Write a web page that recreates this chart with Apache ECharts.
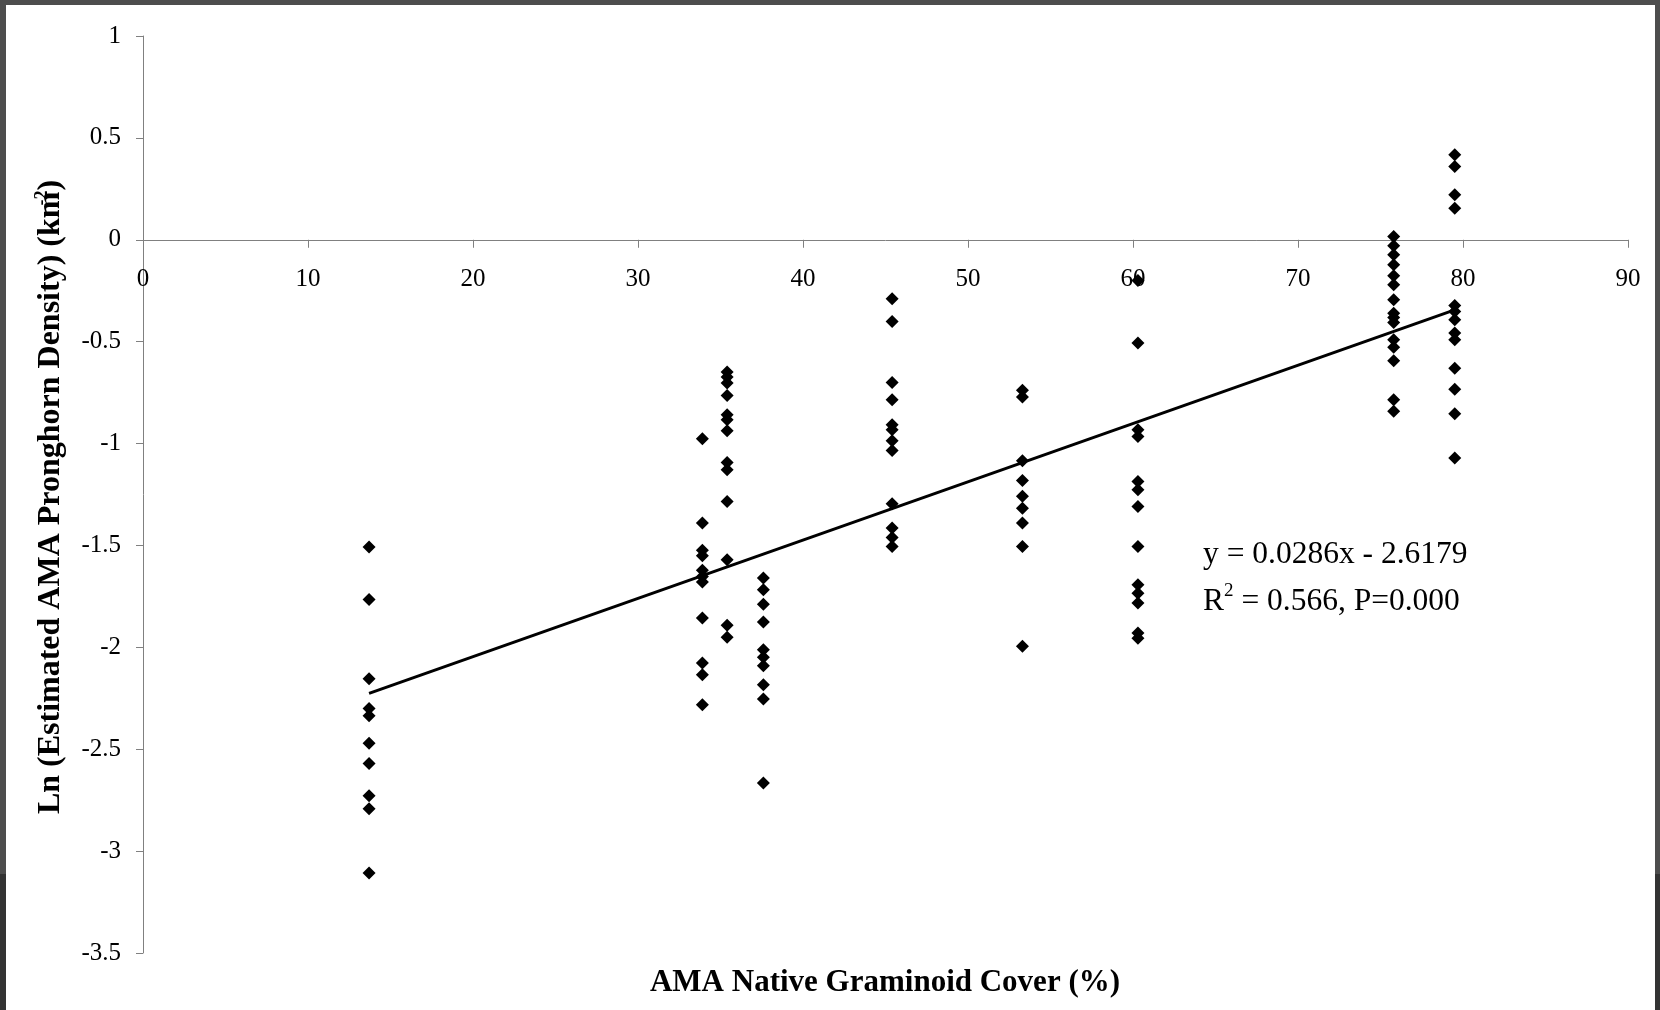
<!DOCTYPE html>
<html>
<head>
<meta charset="utf-8">
<script src="https://cdn.jsdelivr.net/npm/echarts@6/dist/echarts.min.js"></script>
<style>
html,body{margin:0;padding:0;background:#fff;}
#chart{position:absolute;left:0;top:0;width:1660px;height:1010px;}
.fr{position:absolute;pointer-events:none;}
</style>
</head>
<body>
<div id="chart"></div>
<div class="fr" style="left:0;top:0;width:1660px;height:5px;background:#4d4d4d;"></div>
<div class="fr" style="left:0;top:0;width:6px;height:874px;background:#4d4d4d;"></div>
<div class="fr" style="left:0;top:874px;width:6px;height:136px;background:#333;"></div>
<div class="fr" style="left:1655px;top:0;width:5px;height:874px;background:#4d4d4d;"></div>
<div class="fr" style="left:1655px;top:874px;width:5px;height:136px;background:#333;"></div>
<script>
// Graminoid cover (%) of each sampled AMA, and Ln density values observed there
var coverValues = [13.7, 33.9, 35.4, 37.6, 45.4, 53.3, 60.3, 75.8, 79.5];
var lnDensity13 = [-1.508, -1.765, -2.154, -2.300, -2.336, -2.471, -2.570, -2.728, -2.792, -3.108];
var lnDensity34 = [-0.976, -1.390, -1.524, -1.551, -1.622, -1.652, -1.680, -1.856, -2.077, -2.134, -2.282];
var lnDensity35 = [-0.649, -0.674, -0.703, -0.764, -0.859, -0.883, -0.937, -1.093, -1.129, -1.284, -1.570, -1.892, -1.950];
var lnDensity37 = [-1.660, -1.717, -1.788, -1.876, -2.012, -2.049, -2.090, -2.184, -2.254, -2.666];
var lnDensity45 = [-0.290, -0.401, -0.700, -0.785, -0.908, -0.932, -0.986, -1.034, -1.295, -1.415, -1.461, -1.505];
var lnDensity53 = [-0.739, -0.772, -1.084, -1.181, -1.259, -1.317, -1.390, -1.505, -1.995];
var lnDensity60 = [-0.200, -0.507, -0.932, -0.965, -1.186, -1.227, -1.309, -1.505, -1.693, -1.734, -1.783, -1.930, -1.955];
var lnDensity76 = [0.016, -0.029, -0.074, -0.123, -0.177, -0.221, -0.294, -0.360, -0.381, -0.406, -0.491, -0.528, -0.594, -0.785, -0.842];
var lnDensity80 = [0.417, 0.360, 0.221, 0.155, -0.322, -0.352, -0.393, -0.458, -0.491, -0.630, -0.733, -0.854, -1.071];
var columns = [lnDensity13, lnDensity34, lnDensity35, lnDensity37, lnDensity45, lnDensity53, lnDensity60, lnDensity76, lnDensity80];

// Regression line
var slope = 0.0286;
var intercept = -2.6179;
var trendRange = [13.7, 79.5];
var equationLines = ['y = 0.0286x - 2.6179', 'R', '2', ' = 0.566, P=0.000'];

var xTitle = 'AMA Native Graminoid Cover (%)';
var yTitleMain = 'Ln (Estimated AMA Pronghorn Density) (km';
var yTitleSup = '-2';

var points = [];
coverValues.forEach(function (x, i) {
  columns[i].forEach(function (v) { points.push([x, v]); });
});
var trend = trendRange.map(function (x) { return [x, slope * x + intercept]; });

var serif = '"Liberation Serif", "Times New Roman", serif';
var gridTop = 36, gridBottom = 57, H = 1010;
var yMin = -3.5, yMax = 1;
// distance from bottom of grid up to y = 0, for placing x tick labels beside the zero line
var zeroOffset = -((0 - yMin) / (yMax - yMin)) * (H - gridTop - gridBottom);

var chart = echarts.init(document.getElementById('chart'), null, {renderer: 'canvas'});
chart.setOption({
  backgroundColor: '#fff',
  animation: false,
  grid: {left: 143, right: 32, top: gridTop, bottom: gridBottom, containLabel: false},
  xAxis: [{
    type: 'value', min: 0, max: 90, interval: 10,
    axisLine: {onZero: true, lineStyle: {color: '#808080', width: 1}},
    axisTick: {show: true, inside: false, length: 8, lineStyle: {color: '#808080'}},
    axisLabel: {show: false},
    splitLine: {show: false}
  }, {
    type: 'value', min: 0, max: 90, interval: 10, position: 'bottom', offset: zeroOffset,
    axisLine: {show: false, onZero: false},
    axisTick: {show: false},
    axisLabel: {color: '#000', fontFamily: serif, fontSize: 25, margin: 27},
    splitLine: {show: false}
  }],
  yAxis: {
    type: 'value', min: yMin, max: yMax, interval: 0.5,
    axisLine: {show: true, lineStyle: {color: '#808080', width: 1}},
    axisTick: {show: true, inside: false, length: 7, lineStyle: {color: '#808080'}},
    axisLabel: {color: '#000', fontFamily: serif, fontSize: 25, margin: 22},
    splitLine: {show: false}
  },
  series: [
    {
      type: 'scatter', data: points, symbol: 'diamond', symbolSize: 13,
      itemStyle: {color: '#000', opacity: 1}, z: 5
    },
    {
      type: 'line', data: trend, symbol: 'none',
      lineStyle: {color: '#000', width: 3}, z: 4
    }
  ],
  graphic: [
    {
      type: 'text', x: 885, y: 983,
      style: {text: xTitle, font: 'bold 31px ' + serif, fill: '#000', align: 'center', verticalAlign: 'middle'}
    },
    {
      type: 'text', x: 50, y: 497, rotation: Math.PI / 2,
      style: {
        text: '{m|' + yTitleMain + '}{s|' + yTitleSup + '}{m|)}',
        align: 'center', verticalAlign: 'middle',
        rich: {
          m: {font: 'bold 32px ' + serif, fill: '#000', lineHeight: 34, verticalAlign: 'bottom'},
          s: {font: 'bold 18px ' + serif, fill: '#000', lineHeight: 34, verticalAlign: 'top', padding: [0, 0, 0, -14]}
        }
      }
    },
    {
      type: 'text', x: 1203, y: 555,
      style: {text: equationLines[0], font: '31.5px ' + serif, fill: '#000', verticalAlign: 'middle'}
    },
    {
      type: 'text', x: 1203, y: 600,
      style: {
        text: '{a|' + equationLines[1] + '}{b|' + equationLines[2] + '}{a|' + equationLines[3] + '}',
        verticalAlign: 'middle',
        rich: {
          a: {font: '31.5px ' + serif, fill: '#000', lineHeight: 36, verticalAlign: 'bottom'},
          b: {font: '19px ' + serif, fill: '#000', lineHeight: 36, verticalAlign: 'top'}
        }
      }
    }
  ]
});
</script>
</body>
</html>
